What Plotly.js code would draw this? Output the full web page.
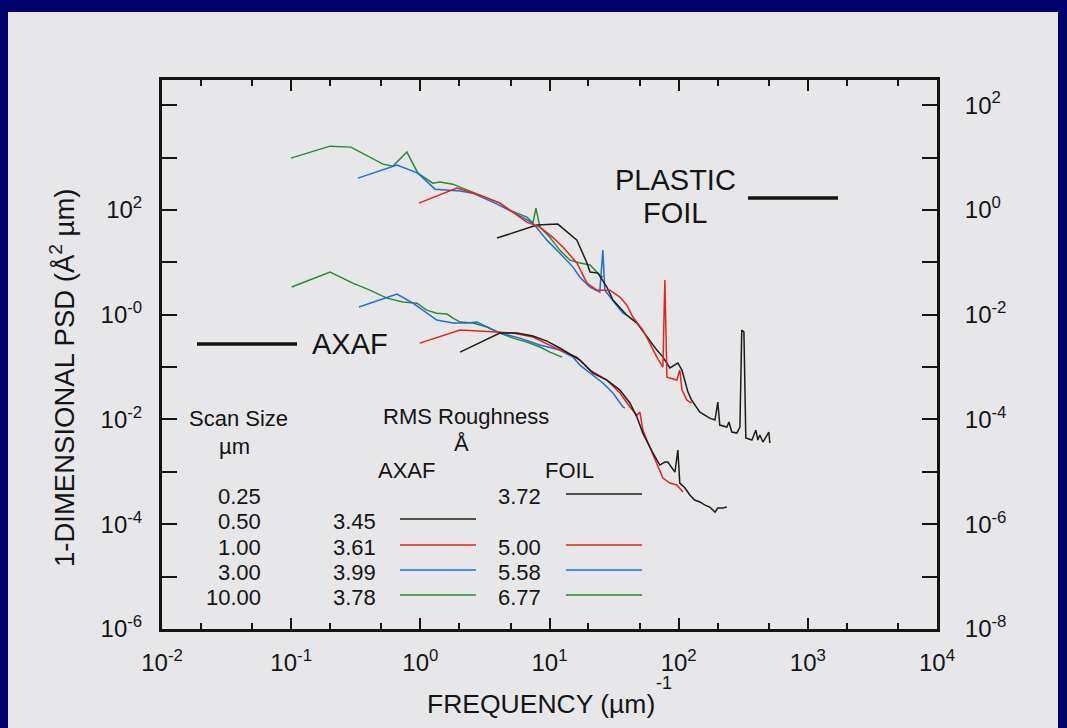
<!DOCTYPE html>
<html>
<head>
<meta charset="utf-8">
<script src="https://cdn.plot.ly/plotly-3.0.1.min.js"></script>
<style>
  html, body { margin: 0; padding: 0; width: 1067px; height: 728px; overflow: hidden; background: #00006c; }
  #sheet { position: absolute; left: 8px; top: 12px; width: 1050px; height: 716px; background: #e7e7ea; }
  #chart { position: absolute; left: 0; top: 0; width: 1067px; height: 728px; }
</style>
</head>
<body>
<div id="sheet"></div>
<div id="chart"></div>
<script>
// ---- AXAF mirror (left axis), frequency in 1/µm, PSD in Å²µm ----
const axaf050_f   = [2.03, 4.13, 5.59, 7.44, 9.55, 12.0, 17.2, 21.7, 27.8, 35.1, 41.9, 47.5, 52.8, 63.1, 71.5, 78.2, 82.4, 88.5, 93.5, 98.6, 102, 112, 122, 133, 146, 160, 174, 191, 201, 220, 236];
const axaf050_psd = [0.193, 0.446, 0.446, 0.391, 0.313, 0.231, 0.136, 0.0767, 0.0565, 0.0364, 0.0206, 0.0111, 0.00549, 0.00229, 0.00135, 0.00154, 0.00154, 0.00118, 0.00099, 0.00261, 0.000611, 0.000491, 0.000361, 0.000290, 0.000266, 0.000232, 0.000213, 0.000171, 0.000204, 0.000204, 0.000213];

const axaf100_f   = [0.99, 2.03, 3.92, 5.21, 7.44, 9.55, 12.0, 16.3, 20.6, 27.8, 35.1, 41.9, 47.5, 50.1, 52.8, 56.7, 67.8, 75.5, 85.5, 96.8, 108];
const axaf100_psd = [0.287, 0.508, 0.466, 0.446, 0.374, 0.275, 0.211, 0.155, 0.0877, 0.0565, 0.0319, 0.0173, 0.0121, 0.0138, 0.00628, 0.00405, 0.00147, 0.000762, 0.000611, 0.000560, 0.000412];

const axaf300_f   = [0.335, 0.659, 0.877, 1.34, 1.79, 2.30, 2.74, 3.28, 4.13, 5.90, 8.43, 12.0, 15.2, 17.2, 20.6, 25.9, 31.0, 37.0, 38.4];
const axaf300_psd = [1.40, 2.47, 1.66, 0.789, 0.692, 0.692, 0.723, 0.580, 0.446, 0.357, 0.263, 0.211, 0.155, 0.109, 0.0767, 0.0496, 0.0319, 0.0173, 0.0165];

const axaf1000_f   = [0.101, 0.200, 0.300, 0.407, 0.551, 0.733, 0.942, 1.12, 1.34, 1.61, 1.79, 2.03, 2.55, 3.28, 4.13, 5.21, 6.68, 8.43, 10.07, 12.5];
const axaf1000_psd = [3.37, 6.50, 4.01, 2.94, 2.07, 1.74, 1.66, 1.22, 1.07, 1.03, 0.861, 0.723, 0.692, 0.580, 0.446, 0.357, 0.300, 0.241, 0.193, 0.155];

// ---- Plastic foil (right axis) ----
const foil025_f   = [3.92, 7.99, 11.6, 16.3, 19.5, 20.6, 23.7, 27.8, 31.0, 39.7, 47.5, 56.7, 67.8, 75.5, 85.5, 98.6, 106, 118, 126, 146, 174, 191, 201, 208, 236, 245, 258, 282, 298, 308, 320, 331, 369, 396, 410, 425, 449, 499, 508];
const foil025_psd = [0.290, 0.513, 0.536, 0.265, 0.097, 0.065, 0.0622, 0.0337, 0.0190, 0.0098, 0.00692, 0.00374, 0.00211, 0.00155, 0.00096, 0.00119, 0.00088, 0.000333, 0.000234, 0.000138, 0.000106, 0.0000975, 0.000215, 0.0000782, 0.0000716, 0.0000891, 0.0000575, 0.0000550, 0.0000716, 0.00508, 0.00466, 0.0000442, 0.0000405, 0.0000628, 0.0000405, 0.0000504, 0.0000371, 0.0000575, 0.0000355];

const foil100_f   = [0.975, 1.92, 2.89, 4.13, 6.68, 8.43, 10.6, 12.7, 16.3, 19.5, 23.3, 29.3, 35.1, 39.7, 44.2, 52.8, 59.8, 67.8, 75.5, 78.2, 81.1, 96.8, 102, 106, 116, 126];
const foil100_psd = [1.35, 2.61, 1.91, 1.35, 0.585, 0.47, 0.30, 0.195, 0.097, 0.040, 0.0294, 0.0294, 0.0217, 0.0152, 0.0090, 0.00508, 0.00287, 0.00155, 0.0010, 0.0457, 0.00064, 0.000565, 0.00088, 0.000364, 0.000234, 0.000206];

const foil300_f   = [0.329, 0.659, 0.957, 1.30, 2.03, 2.55, 3.92, 5.21, 7.44, 9.55, 12.0, 15.2, 17.2, 20.6, 24.5, 25.9, 26.8, 31.0, 37.0, 39.7];
const foil300_psd = [4.05, 7.16, 5.04, 2.49, 2.29, 2.09, 1.29, 0.91, 0.56, 0.265, 0.150, 0.081, 0.052, 0.0337, 0.0270, 0.171, 0.0294, 0.0190, 0.0107, 0.0098];

const foil1000_f   = [0.0995, 0.200, 0.290, 0.407, 0.514, 0.614, 0.787, 0.957, 1.25, 1.42, 1.79, 2.03, 2.55, 3.28, 4.13, 4.93, 6.68, 7.44, 7.85, 8.43, 10.07, 12.0, 14.4, 17.2, 20.6, 24.5, 25.9];
const foil1000_psd = [9.75, 16.5, 15.8, 10.2, 7.48, 6.85, 12.7, 5.04, 3.24, 3.40, 3.10, 2.72, 2.19, 1.68, 1.35, 0.99, 0.73, 0.56, 1.08, 0.47, 0.30, 0.171, 0.110, 0.097, 0.089, 0.057, 0.052];

// ---- Key table ----
const scanSizes   = ['0.25', '0.50', '1.00', '3.00', '10.00'];
const axafRms     = ['', '3.45', '3.61', '3.99', '3.78'];
const foilRms     = ['3.72', '', '5.00', '5.58', '6.77'];
const scanColors  = ['#1c1c1c', '#1c1c1c', '#e0261c', '#1f6ed4', '#2a8a36'];

// ---- Axis ticks ----
const xTickVals = [1e-2, 1e-1, 1e0, 1e1, 1e2, 1e3, 1e4];
const xTickText = ['10<sup>-2</sup>', '10<sup>-1</sup>', '10<sup>0</sup>', '10<sup>1</sup>', '10<sup>2</sup>', '10<sup>3</sup>', '10<sup>4</sup>'];
const xMinorVals = [0.02, 0.05, 0.2, 0.5, 2, 5, 20, 50, 200, 500, 2000, 5000];
const yLeftVals = [1e-6, 1e-5, 1e-4, 1e-3, 1e-2, 1e-1, 1e0, 1e1, 1e2, 1e3, 1e4];
const yLeftText = ['10<sup>-6</sup>', '', '10<sup>-4</sup>', '', '10<sup>-2</sup>', '', '10<sup>-0</sup>', '', '10<sup>2</sup>', '', ''];
const yRightVals = [1e-8, 1e-7, 1e-6, 1e-5, 1e-4, 1e-3, 1e-2, 1e-1, 1e0, 1e1, 1e2];
const yRightText = ['10<sup>-8</sup>', '', '10<sup>-6</sup>', '', '10<sup>-4</sup>', '', '10<sup>-2</sup>', '', '10<sup>0</sup>', '', '10<sup>2</sup>'];

// ---- Frame geometry (pixels) ----
const W = 1067, H = 728;
const L = 162, R = 937, T = 80, B = 629;
const px = X => (X - L) / (R - L);
const py = Y => (B - Y) / (B - T);

const FONT = 'Liberation Sans, Arial, Helvetica, sans-serif';
const INK = '#141414';

function curve(f, psd, color, axis) {
  return { x: f, y: psd, yaxis: axis, type: 'scatter', mode: 'lines',
           line: { color: color, width: 1.5 }, hoverinfo: 'skip', showlegend: false };
}

const traces = [
  curve(axaf1000_f, axaf1000_psd, scanColors[4], 'y'),
  curve(axaf300_f,  axaf300_psd,  scanColors[3], 'y'),
  curve(axaf100_f,  axaf100_psd,  scanColors[2], 'y'),
  curve(axaf050_f,  axaf050_psd,  scanColors[1], 'y'),
  curve(foil1000_f, foil1000_psd, scanColors[4], 'y2'),
  curve(foil300_f,  foil300_psd,  scanColors[3], 'y2'),
  curve(foil025_f,  foil025_psd,  scanColors[0], 'y2'),
  curve(foil100_f,  foil100_psd,  scanColors[2], 'y2')
];

const annotations = [];
const shapes = [];
function label(text, X, Y, size, xanchor) {
  annotations.push({ text: text, xref: 'paper', yref: 'paper', x: px(X), y: py(Y),
    xanchor: xanchor || 'center', yanchor: 'middle', showarrow: false,
    font: { family: FONT, size: size, color: INK } });
}
function rule(X0, X1, Y, color, width) {
  shapes.push({ type: 'line', xref: 'paper', yref: 'paper', x0: px(X0), x1: px(X1), y0: py(Y), y1: py(Y),
    line: { color: color, width: width } });
}

// Series labels
label('AXAF', 350, 344, 29);
rule(197, 297, 344, INK, 3.5);
label('PLASTIC', 675, 180, 29);
label('FOIL', 675, 213, 29);
rule(748, 838, 198, INK, 3.5);

// Key table
const KEY = 22;
label('Scan Size', 238, 418, KEY);
label('µm', 234, 446, KEY);
label('RMS Roughness', 466, 417, KEY);
label('Å', 461, 443, KEY);
label('AXAF', 406, 470, KEY);
label('FOIL', 569, 470, KEY);
const rowY = [496, 521, 547, 572, 597];
scanSizes.forEach((s, i) => {
  label(s, 263, rowY[i], KEY, 'right');
  if (axafRms[i]) { label(axafRms[i], 378, rowY[i], KEY, 'right'); rule(400, 476, rowY[i] - 2, scanColors[i], 1.6); }
  if (foilRms[i]) { label(foilRms[i], 543, rowY[i], KEY, 'right'); rule(566, 642, rowY[i] - 2, scanColors[i], 1.6); }
});

// Axis titles
annotations.push({ text: 'FREQUENCY (µm)', xref: 'paper', yref: 'paper', x: px(541), y: py(704),
  xanchor: 'center', yanchor: 'middle', showarrow: false, font: { family: FONT, size: 26.5, color: INK } });
annotations.push({ text: '-1', xref: 'paper', yref: 'paper', x: px(664), y: py(683),
  xanchor: 'center', yanchor: 'middle', showarrow: false, font: { family: FONT, size: 18, color: INK } });
annotations.push({ text: '1-DIMENSIONAL PSD (Å<sup>2</sup> µm)', xref: 'paper', yref: 'paper', x: px(62), y: py(378),
  xanchor: 'center', yanchor: 'middle', textangle: -90, showarrow: false, font: { family: FONT, size: 27.5, color: INK } });

const tickFont = { family: FONT, size: 24, color: INK };
const layout = {
  width: W, height: H,
  margin: { l: L, r: W - R, t: T, b: H - B, pad: 0 },
  paper_bgcolor: 'rgba(0,0,0,0)', plot_bgcolor: 'rgba(0,0,0,0)',
  showlegend: false,
  xaxis: {
    type: 'log', range: [-2, 4], tickmode: 'array', tickvals: xTickVals, ticktext: xTickText,
    ticks: 'inside', ticklen: 11, tickwidth: 2, tickcolor: INK,
    minor: { tickmode: 'array', tickvals: xMinorVals, ticks: 'inside', ticklen: 6, tickwidth: 2, tickcolor: INK, showgrid: false },
    showline: true, linewidth: 3, linecolor: INK, mirror: 'ticks',
    showgrid: false, zeroline: false, tickfont: tickFont, ticklabelstandoff: 10
  },
  yaxis: {
    type: 'log', range: [-6, 4.48], tickmode: 'array', tickvals: yLeftVals, ticktext: yLeftText,
    ticks: 'inside', ticklen: 15, tickwidth: 2, tickcolor: INK,
    showline: true, linewidth: 3, linecolor: INK,
    showgrid: false, zeroline: false, tickfont: tickFont, ticklabelstandoff: 12
  },
  yaxis2: {
    type: 'log', range: [-8, 2.48], overlaying: 'y', side: 'right', tickmode: 'array', tickvals: yRightVals, ticktext: yRightText,
    ticks: 'inside', ticklen: 15, tickwidth: 2, tickcolor: INK,
    showline: true, linewidth: 3, linecolor: INK,
    showgrid: false, zeroline: false, tickfont: tickFont, ticklabelstandoff: 20
  },
  annotations: annotations,
  shapes: shapes
};

Plotly.newPlot('chart', traces, layout, { staticPlot: true, displayModeBar: false });
</script>
</body>
</html>
